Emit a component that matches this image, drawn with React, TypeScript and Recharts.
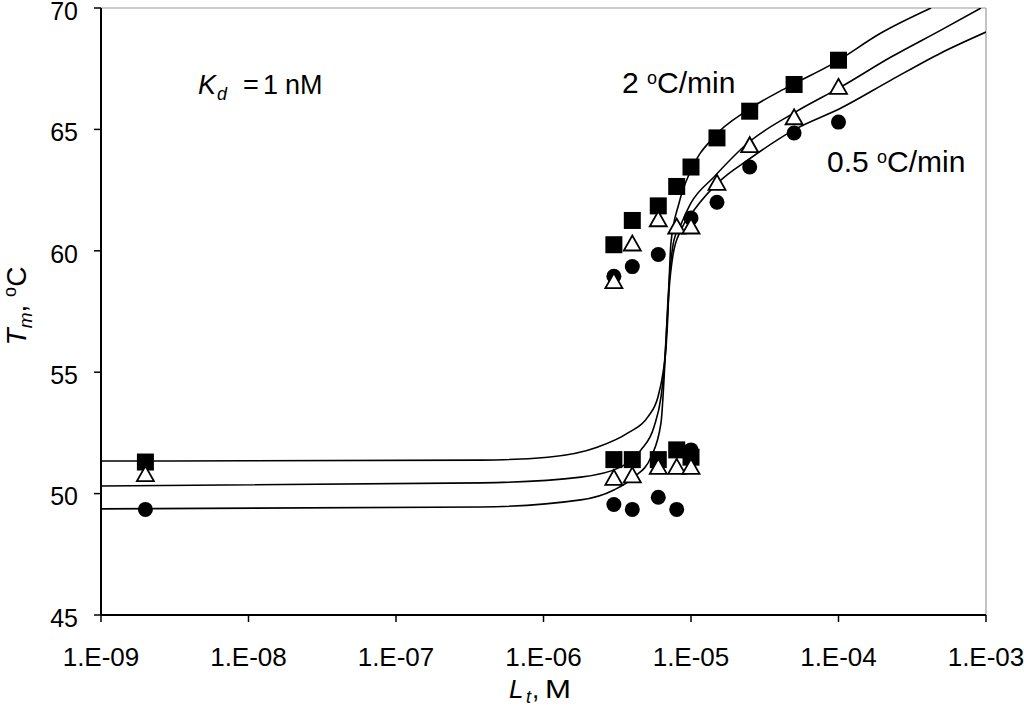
import { ComposedChart, Line, Scatter, XAxis, YAxis, ReferenceLine, Customized } from 'recharts';

const FONT = 'Liberation Sans, Arial, Helvetica, sans-serif';

const xTicks = [1e-9, 1e-8, 1e-7, 1e-6, 1e-5, 1e-4, 1e-3];
const yTicks = [45, 50, 55, 60, 65, 70];

// fitted curves
const fit2X = [1e-9, 1e-8, 3.77e-7, 1.07e-6, 2.34e-6, 3.74e-6, 5.1e-6, 5.97e-6, 6.46e-6, 6.78e-6, 6.98e-6, 7.1e-6, 7.31e-6, 8.3e-6, 1e-5, 1.43e-5, 2.43e-5, 4.55e-5, 9.3e-5, 1.94e-4, 4.24e-4];
const fit2T = [51.34, 51.35, 51.38, 51.5, 51.92, 52.5, 53.16, 53.98, 54.97, 56.04, 57.44, 58.67, 60.32, 61.97, 63.33, 64.69, 65.8, 66.75, 67.73, 68.97, 70];

const fit1X = [1e-9, 3.77e-7, 1.79e-6, 3.35e-6, 4.58e-6, 5.61e-6, 6.26e-6, 6.56e-6, 6.78e-6, 6.98e-6, 7.67e-6, 8.5e-6, 1e-5, 1.43e-5, 2.43e-5, 4.99e-5, 1.04e-4, 2.27e-4, 4.95e-4, 9.25e-4];
const fit1T = [50.31, 50.44, 50.68, 51.1, 51.8, 52.74, 53.98, 55.09, 56.45, 57.97, 60.45, 61.06, 61.97, 63.04, 64.44, 65.68, 66.75, 67.98, 69.09, 70];

const fit05X = [1e-9, 3.77e-7, 1.79e-6, 3.0e-6, 4.11e-6, 5.36e-6, 6.26e-6, 6.56e-6, 6.78e-6, 7.1e-6, 7.55e-6, 8.55e-6, 1.05e-5, 1.6e-5, 2.43e-5, 4.99e-5, 1.04e-4, 2.27e-4, 4.95e-4, 1e-3];
const fit05T = [49.37, 49.45, 49.74, 50.15, 50.68, 51.51, 52.91, 54.68, 56.33, 58.39, 59.83, 60.86, 61.68, 62.92, 63.74, 64.98, 65.88, 67.03, 68.15, 69.01];

// measured Tm, 2 oC/min (squares)
const sqX = [2e-9, 3e-6, 4e-6, 6e-6, 8e-6, 1e-5, 3e-6, 4e-6, 6e-6, 8e-6, 1e-5, 1.5e-5, 2.5e-5, 5e-5, 1e-4];
const sqT = [51.3, 51.4, 51.4, 51.4, 51.8, 51.5, 60.25, 61.25, 61.85, 62.65, 63.45, 64.65, 65.75, 66.85, 67.85];

// 1 oC/min (open triangles)
const triX = [2e-9, 3e-6, 4e-6, 6e-6, 8e-6, 1e-5, 3e-6, 4e-6, 6e-6, 8e-6, 1e-5, 1.5e-5, 2.5e-5, 5e-5, 1e-4];
const triT = [50.8, 50.65, 50.75, 51.1, 51.1, 51.1, 58.75, 60.3, 61.3, 61.0, 61.0, 62.8, 64.35, 65.5, 66.75];

// 0.5 oC/min (circles)
const cirX = [2e-9, 3e-6, 4e-6, 6e-6, 8e-6, 1e-5, 3e-6, 4e-6, 6e-6, 1e-5, 1.5e-5, 2.5e-5, 5e-5, 1e-4];
const cirT = [49.35, 49.55, 49.35, 49.85, 49.35, 51.8, 58.95, 59.35, 59.85, 61.35, 62.0, 63.45, 64.85, 65.3];

const zip = (xs: number[], ts: number[]) => xs.map((x, i) => ({ x, t: ts[i] }));

const fmtTick = (v: number) => {
    const e = Math.round(Math.log10(v));
    return `1.E${e < 0 ? '-' : '+'}${String(Math.abs(e)).padStart(2, '0')}`;
};

const Square = (p: any) => <rect x={p.cx - 8.5} y={p.cy - 8.5} width={17} height={17} fill="#000" />;
const Dot = (p: any) => <circle cx={p.cx} cy={p.cy} r={7.5} fill="#000" />;
const Tri = (p: any) => (
    <polygon
        points={`${p.cx - 8.5},${p.cy + 7} ${p.cx + 8.5},${p.cy + 7} ${p.cx},${p.cy - 8}`}
        fill="#fff"
        stroke="#000"
        strokeWidth={1.8}
    />
);

const Annotations = () => (
    <g fontFamily={FONT} fill="#000">
        {/* Kd label */}
        <text y={94} fontSize={27}>
            <tspan x={198} fontStyle="italic">K</tspan>
            <tspan x={217} fontSize={18} dy={6} fontStyle="italic">d</tspan>
            <tspan x={243} dy={-6}>=</tspan>
            <tspan x={263}>1</tspan>
            <tspan x={285}>nM</tspan>
        </text>
        <text x={622} y={93} fontSize={30}>
            <tspan>2 </tspan>
            <tspan fontSize={18} dy={-9}>o</tspan>
            <tspan dy={9}>C/min</tspan>
        </text>
        <text x={827} y={172} fontSize={30}>
            <tspan>0.5 </tspan>
            <tspan fontSize={18} dy={-9}>o</tspan>
            <tspan dy={9}>C/min</tspan>
        </text>
        {/* x axis title */}
        <text y={698} fontSize={26}>
            <tspan x={509} fontStyle="italic">L</tspan>
            <tspan x={526} fontSize={18} dy={5} fontStyle="italic">t</tspan>
            <tspan x={532} dy={-5}>,</tspan>
        </text>
        <text fontSize={26} transform="translate(545,698) scale(1.2,1)">M</text>
        {/* y axis title */}
        <text x={26} y={306} fontSize={28} textAnchor="middle" transform="rotate(-90, 26, 306)">
            <tspan fontStyle="italic">T</tspan>
            <tspan fontSize={19} dy={6} fontStyle="italic">m</tspan>
            <tspan dy={-6}>, </tspan>
            <tspan fontSize={18} dy={-10}>o</tspan>
            <tspan dy={10}>C</tspan>
        </text>
    </g>
);

export default function App() {
    const xTick = { fill: '#000', fontSize: 26, fontFamily: FONT };
    const yTick = { fill: '#000', fontSize: 25, fontFamily: FONT, dy: 3 };
    return (
        <div style={{ position: 'absolute', left: 0, top: 0, background: '#fff' }}>
            <ComposedChart width={1024} height={711} margin={{ top: 8, right: 38, bottom: 0, left: 0 }}>
                <XAxis
                    dataKey="x"
                    type="number"
                    scale="log"
                    domain={[1e-9, 1e-3]}
                    ticks={xTicks}
                    interval={0}
                    allowDataOverflow
                    tickFormatter={fmtTick}
                    height={96}
                    tickSize={7}
                    tickMargin={26}
                    tick={xTick}
                    axisLine={{ stroke: '#000', strokeWidth: 2 }}
                    tickLine={{ stroke: '#000', strokeWidth: 1.5 }}
                />
                <YAxis
                    dataKey="t"
                    type="number"
                    domain={[45, 70]}
                    ticks={yTicks}
                    interval={0}
                    allowDataOverflow
                    width={101}
                    tickSize={7}
                    tickMargin={16}
                    tick={yTick}
                    axisLine={{ stroke: '#000', strokeWidth: 2 }}
                    tickLine={{ stroke: '#000', strokeWidth: 1.5 }}
                />
                <ReferenceLine y={70} stroke="#9a9a9a" strokeWidth={1.2} />
                <ReferenceLine x={1e-3} stroke="#9a9a9a" strokeWidth={1.2} />
                <Line data={zip(fit2X, fit2T)} dataKey="t" type="monotone" stroke="#000" strokeWidth={1.6} dot={false} isAnimationActive={false} />
                <Line data={zip(fit1X, fit1T)} dataKey="t" type="monotone" stroke="#000" strokeWidth={1.6} dot={false} isAnimationActive={false} />
                <Line data={zip(fit05X, fit05T)} dataKey="t" type="monotone" stroke="#000" strokeWidth={1.6} dot={false} isAnimationActive={false} />
                <Scatter data={zip(sqX, sqT)} dataKey="t" shape={Square} isAnimationActive={false} />
                <Scatter data={zip(cirX, cirT)} dataKey="t" shape={Dot} isAnimationActive={false} />
                <Scatter data={zip(triX, triT)} dataKey="t" shape={Tri} isAnimationActive={false} />
                <Customized component={Annotations} />
            </ComposedChart>
        </div>
    );
}
